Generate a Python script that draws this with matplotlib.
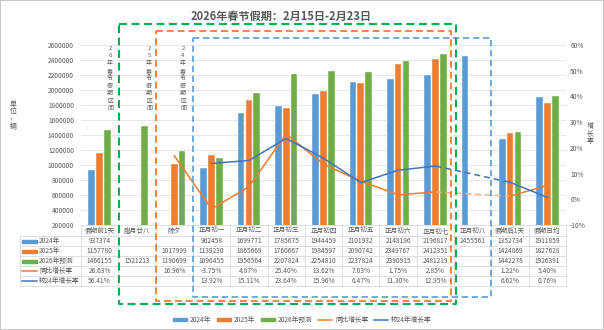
import matplotlib
matplotlib.use('Agg')
import matplotlib.pyplot as plt
import numpy as np
from matplotlib.lines import Line2D
from matplotlib.patches import Rectangle, Patch

plt.rcParams['font.family'] = ['Noto Sans CJK SC', 'DejaVu Sans']

# ---- data ----
categories = ['假期前1天', '腊月廿八', '除夕', '正月初一', '正月初二', '正月初三', '正月初四',
              '正月初五', '正月初六', '正月初七', '正月初八', '假期后1天', '假期日均']
v2024 = [937374, None, None, 962458, 1699771, 1785675, 1944459, 2101932, 2148196, 2196817, 2455561, 1352734, 1911859]
v2025 = [1157780, None, 1017999, 1139230, 1865669, 1760667, 1984597, 2090742, 2349767, 2412351, None, 1424869, 1827628]
v2026 = [1466155, 1521213, 1190699, 1096455, 1956564, 2207824, 2254810, 2237824, 2390915, 2481219, None, 1442278, 1926391]
yoy = [26.63, None, 16.96, -3.75, 4.87, 25.40, 13.62, 7.03, 1.75, 2.85, None, 1.22, 5.40]
vs24 = [56.41, None, None, 13.92, 15.11, 23.64, 15.96, 6.47, 11.30, 12.95, None, 6.62, 0.76]
left_ticks = list(range(200000, 2600001, 200000))
right_ticks = [-10, 0, 10, 20, 30, 40, 50, 60]

bar_names = ['2024年', '2025年', '2026年预测']
line_names = ['同比增长率', '较24年增长率']
bar_colors = ['#5B9BD5', '#ED7D31', '#70AD47']
line_colors = ['#ED7D31', '#4472C4']

W, H = 604, 330
TXT = '#595959'
def fx(x):
    return x / W
def fy(y):
    return 1 - y / H

def arr(v):
    return np.array([np.nan if a is None else a for a in v], dtype=float)

def stacked(xc, y0, chars, step, size, color):
    # one glyph per line, top to bottom
    for i, ch in enumerate(chars):
        fig.text(fx(xc), fy(y0 + i * step), ch, ha='center', va='center',
                 fontsize=size, color=color)

fig = plt.figure(figsize=(W / 100, H / 100), dpi=100)
fig.patch.set_facecolor('white')

x_left, x_right, y_top, y_bot = 81, 566, 45, 225
ax = fig.add_axes([fx(x_left), fy(y_bot), (x_right - x_left) / W, (y_bot - y_top) / H])
ax2 = ax.twinx()

n = len(categories)
x = np.arange(n)
offs = [-0.21, 0, 0.21]
for s, (vals, col) in enumerate(zip([v2024, v2025, v2026], bar_colors)):
    ax.bar(x + offs[s], arr(vals), width=0.18, color=col, edgecolor='white', linewidth=0.3, zorder=2)

ax.set_xlim(-0.5, n - 0.5)
ax.set_ylim(200000, 2600000)
ax.set_yticks(left_ticks)
ax.set_yticklabels([str(t) for t in left_ticks])
ax.grid(axis='y', color='#E3E3E3', linewidth=0.6, zorder=0)
ax.set_axisbelow(True)
ax.set_xticks([])
for sp in ax.spines.values():
    sp.set_visible(False)
ax.tick_params(axis='y', length=0, labelsize=4.8, labelcolor=TXT, pad=5)

# lines on secondary axis
yoy_a, vs24_a = arr(yoy), arr(vs24)
solid_yoy = yoy_a.copy(); solid_yoy[:2] = np.nan
solid_vs = vs24_a.copy(); solid_vs[:3] = np.nan
ax2.plot(x, solid_yoy, color=line_colors[0], lw=1.1, zorder=3)
ax2.plot(x, solid_vs, color=line_colors[1], lw=1.1, zorder=3)
ax2.plot([9, 11], [yoy_a[9], yoy_a[11]], color='#F4B183', lw=1.1, ls=(0, (4, 2.5)))
ax2.plot([9, 11], [vs24_a[9], vs24_a[11]], color=line_colors[1], lw=1.1, ls=(0, (4, 2.5)))
ax2.set_ylim(-10, 60)
ax2.set_yticks(right_ticks)
ax2.set_yticklabels([f'{t}%' for t in right_ticks])
for sp in ax2.spines.values():
    sp.set_visible(False)
ax2.tick_params(axis='y', length=0, labelsize=4.8, labelcolor=TXT, pad=3)

# title and axis labels
fig.text(fx(281), fy(16), '2026年春节假期：2月15日-2月23日', ha='center', va='center',
         fontsize=8, fontweight='bold', color=TXT)
stacked(13, 104, ['单', '位', '，', '辆'], 7.5, 5, TXT)
stacked(590, 126, list('增长率'), 7.5, 5, TXT)

# vertical notes
for xx, yr in [(110, '6'), (149, '5'), (183, '4')]:
    stacked(xx, 48, ['2', yr] + list('年春节假期区间'), 7.6, 4.3, TXT)

# ---- data table ----
grid_c = '#D9D9D9'
colw = (x_right - x_left) / n
rows_y = [231, 241, 251, 261, 271, 281]
fig.add_artist(Line2D([fx(x_left), fx(x_right)], [fy(225), fy(225)], color=grid_c, lw=0.6))
for yy in [236, 246, 256, 266, 276, 286]:
    fig.add_artist(Line2D([fx(20), fx(x_right)], [fy(yy), fy(yy)], color=grid_c, lw=0.6))
for k in range(n + 1):
    xx = x_left + k * colw
    fig.add_artist(Line2D([fx(xx), fx(xx)], [fy(225), fy(286)], color=grid_c, lw=0.6))
fig.add_artist(Line2D([fx(20), fx(20)], [fy(236), fy(286)], color=grid_c, lw=0.6))

for k, c in enumerate(categories):
    fig.text(fx(x_left + (k + 0.5) * colw), fy(rows_y[0]), c, ha='center', va='center',
             fontsize=4.8, color=TXT)

row_vals = [
    [None if v is None else str(v) for v in v2024],
    [None if v is None else str(v) for v in v2025],
    [None if v is None else str(v) for v in v2026],
    [None if v is None else f'{v:.2f}%' for v in yoy],
    [None if v is None else f'{v:.2f}%' for v in vs24],
]
row_names = bar_names + line_names
for r, (name, vals) in enumerate(zip(row_names, row_vals)):
    yy = rows_y[r + 1]
    if r < 3:
        fig.add_artist(Rectangle((fx(22), fy(yy + 1.5)), fx(15), 3 / H, color=bar_colors[r],
                                 transform=fig.transFigure))
    else:
        fig.add_artist(Line2D([fx(22), fx(37)], [fy(yy), fy(yy)], color=line_colors[r - 3], lw=1.1))
    fig.text(fx(39), fy(yy), name, ha='left', va='center', fontsize=4.8, color=TXT)
    for k, v in enumerate(vals):
        if v is not None:
            fig.text(fx(x_left + (k + 0.5) * colw), fy(yy), v, ha='center', va='center',
                     fontsize=4.8, color=TXT)

# ---- dashed boxes ----
def dashed_box(x0, y0, x1, y1, col, lw):
    fig.add_artist(Line2D([fx(x0), fx(x1), fx(x1), fx(x0), fx(x0)],
                          [fy(y0), fy(y0), fy(y1), fy(y1), fy(y0)],
                          color=col, lw=lw, ls=(0, (3.8, 2.2))))

dashed_box(119, 24, 456, 304, '#00B050', 1.5)
dashed_box(156, 31, 451, 301, '#ED7D31', 1.3)
dashed_box(193, 38, 491, 297, '#5B9BD5', 1.2)

# ---- legend ----
handles = [Patch(color=c) for c in bar_colors] + [Line2D([], [], color=c, lw=1.1) for c in line_colors]
fig.legend(handles, row_names, loc='center', bbox_to_anchor=(0.5, fy(320)), ncol=5, frameon=False,
           fontsize=4.8, handlelength=2.2, handleheight=0.45, columnspacing=0.8, handletextpad=0.4,
           labelcolor=TXT)

fig.add_artist(Rectangle((0, 0), 1, 1, fill=False, edgecolor='#BFBFBF', lw=1.2,
                         transform=fig.transFigure))

fig.savefig('out.png', dpi=100)
